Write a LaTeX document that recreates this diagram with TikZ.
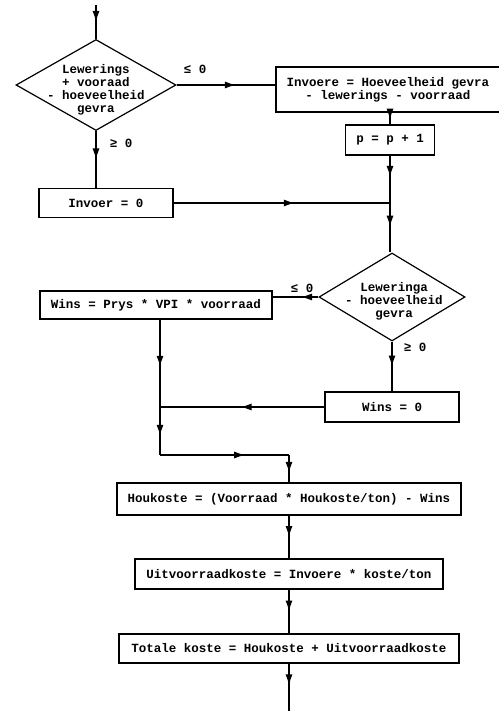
\documentclass[tikz,border=0pt]{standalone}
\usepackage{fontspec}
\setmonofont{Liberation Mono}
\usetikzlibrary{shapes.geometric,decorations.markings,arrows.meta}

\tikzset{
  teks/.style={font=\ttfamily\bfseries\fontsize{12.5}{13}\selectfont, align=center, inner sep=0pt},
  blok/.style={teks, draw, line width=1.2pt, inner sep=0pt},
  besluit/.style={draw, shape=diamond, line width=1.2pt, inner sep=0pt},
  pyl/.style={line width=1.2pt, postaction={decorate},
    decoration={markings, mark=at position #1 with {\arrow{Latex[length=11pt,width=7pt]}}}},
  pyl/.default=0.5
}

\begin{document}
\begin{tikzpicture}[x=1pt,y=-1pt]
  \useasboundingbox (0,0) rectangle (498,711);

  % beslissings
  \node[besluit, minimum width=160pt, minimum height=91pt] (d1) at (96,85) {};
  \node[teks] (d1t) at (96,90) {Lewerings\\+ vooraad\\- hoeveelheid\\gevra};
  \node[besluit, minimum width=146pt, minimum height=88pt] (d2) at (392,297) {};
  \node[teks] (d2t) at (394,301) {Leweringa\\- hoeveelheid\\gevra};

  % blokke
  \node[blok, minimum width=224pt, minimum height=45pt] (invoere) at (388,89.5)
    {Invoere = Hoeveelheid gevra\\- lewerings - voorraad};
  \node[blok, minimum width=89pt, minimum height=30pt] (p) at (390,140) {p = p + 1};
  \node[blok, minimum width=134pt, minimum height=29pt] (inv0) at (106,203) {Invoer = 0};
  \node[blok, minimum width=232pt, minimum height=28pt] (wins) at (156,305)
    {Wins = Prys * VPI * voorraad};
  \node[blok, minimum width=134pt, minimum height=30pt] (wins0) at (392,407) {Wins = 0};
  \node[blok, minimum width=344pt, minimum height=32pt] (houk) at (289,499)
    {Houkoste = (Voorraad * Houkoste/ton) - Wins};
  \node[blok, minimum width=308pt, minimum height=30pt] (uit) at (289,574)
    {Uitvoorraadkoste = Invoere * koste/ton};
  \node[blok, minimum width=340pt, minimum height=29pt] (tot) at (289,648.5)
    {Totale koste = Houkoste + Uitvoorraadkoste};

  % etikette
  \node[teks] (l1) at (195,69) {≤ 0};
  \node[teks] (g1) at (121,143) {≥ 0};
  \node[teks] (l2) at (302,288) {≤ 0};
  \node[teks] (g2) at (415,347) {≥ 0};

  % punte
  \coordinate (begin) at (96,5);
  \coordinate (j1) at (390,203);
  \coordinate (j2) at (160,407);
  \coordinate (j3) at (160,455);
  \coordinate (j4) at (289,455);
  \coordinate (einde) at (289,711);

  % verbindings
  \draw[pyl=0.5] (begin) -- (d1.north);
  \draw[pyl=0.6] (d1.east) -- (d1.east -| invoere.west);
  \draw[pyl=0.5] (d1.south) -- (d1.south |- inv0.north);
  \draw[pyl=0.6] (invoere.south -| p.north) -- (p.north);
  \draw[pyl=0.45] (p.south -| j1) -- (j1);
  \draw[pyl=0.48] (j1) -- (j1 |- d2.north);
  \draw[pyl=0.56] (inv0.east |- j1) -- (j1);
  \draw[pyl=0.38] (d2.west) -- (d2.west -| wins.east);
  \draw[pyl=0.5] (d2.south) -- (wins0.north);
  \draw[pyl=0.54] (wins.south -| j2) -- (j2);
  \draw[pyl=0.51] (wins0.west) -- (j2);
  \draw[pyl=0.6] (j2) -- (j3);
  \draw[pyl=0.66] (j3) -- (j4);
  \draw[pyl=0.65] (j4) -- (houk.north);
  \draw[pyl=0.5] (houk.south) -- (uit.north);
  \draw[pyl=0.5] (uit.south) -- (tot.north);
  \draw[pyl=0.46] (tot.south) -- (einde);
\end{tikzpicture}
\end{document}
